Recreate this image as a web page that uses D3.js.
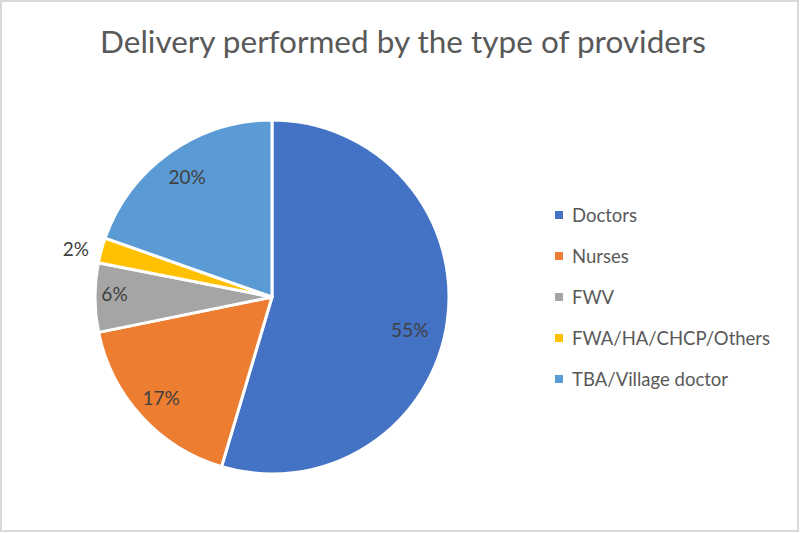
<!DOCTYPE html>
<html>
<head>
<meta charset="utf-8">
<script src="https://cdn.jsdelivr.net/npm/d3@7"></script>
<style>
  body { margin: 0; background: #fff; }
  svg { display: block; font-family: Lato, "Open Sans", sans-serif; }
</style>
</head>
<body>
<svg id="chart"></svg>
<script>
'use strict';

// data (shares in percent)
const providers = ['Doctors', 'Nurses', 'FWV', 'FWA/HA/CHCP/Others', 'TBA/Village doctor'];
const shares = [54.6, 17.2, 6.3, 2.3, 19.6];
const colours = ['#4472c4', '#ed7d31', '#a5a5a5', '#ffc000', '#5b9bd5'];
const titleText = 'Delivery performed by the type of providers';

// where each data label sits: fraction of the radius, and how far along the slice
const labelRadius = [0.8, 0.85, 0.89, 1.14, 0.83];
const labelAlong = [0.526, 0.5, 0.55, 0.3, 0.5];

const width = 800, height = 533;
const cx = 272, cy = 297, r = 177;

const svg = d3.select('#chart')
   .attr('width', width)
   .attr('height', height);

// chart frame
svg.append('rect')
   .attr('x', 1).attr('y', 1)
   .attr('width', width - 3).attr('height', height - 3)
   .attr('fill', '#fff')
   .attr('stroke', '#d9d9d9')
   .attr('stroke-width', 2);

svg.append('text')
   .attr('x', 403).attr('y', 53)
   .attr('text-anchor', 'middle')
   .attr('font-size', 31.5)
   .attr('fill', '#595959')
   .text(titleText);

const rows = providers.map((name, i) => ({ name, value: shares[i], i }));

const pie = d3.pie()
   .sort(null)
   .value(d => d.value);

const arc = d3.arc()
   .innerRadius(0)
   .outerRadius(r);

const arcs = pie(rows);

const g = svg.append('g')
   .attr('transform', `translate(${cx}, ${cy})`);

g.selectAll('path')
   .data(arcs)
  .enter().append('path')
   .attr('d', arc)
   .attr('fill', d => colours[d.data.i])
   .attr('stroke', '#fff')
   .attr('stroke-width', 3)
   .attr('stroke-linejoin', 'round');

g.selectAll('text.label')
   .data(arcs)
  .enter().append('text')
   .attr('class', 'label')
   .attr('transform', d => {
     const t = labelAlong[d.data.i];
     const a = d.startAngle + (d.endAngle - d.startAngle) * t;
     const rr = r * labelRadius[d.data.i];
     return `translate(${Math.sin(a) * rr}, ${-Math.cos(a) * rr})`;
   })
   .attr('text-anchor', 'middle')
   .attr('dy', '0.36em')
   .attr('font-size', 19)
   .attr('fill', '#404040')
   .text(d => Math.round(d.data.value) + '%');

// legend
const legendY = d3.scalePoint()
   .domain(providers)
   .range([215, 379]);

const legend = svg.append('g')
   .selectAll('g')
   .data(providers)
  .enter().append('g')
   .attr('transform', d => `translate(555, ${legendY(d)})`);

legend.append('rect')
   .attr('x', 0).attr('y', -4)
   .attr('width', 8).attr('height', 8)
   .attr('fill', (d, i) => colours[i]);

legend.append('text')
   .attr('x', 17)
   .attr('dy', '0.36em')
   .attr('font-size', 18.5)
   .attr('fill', '#595959')
   .text(d => d);
</script>
</body>
</html>
